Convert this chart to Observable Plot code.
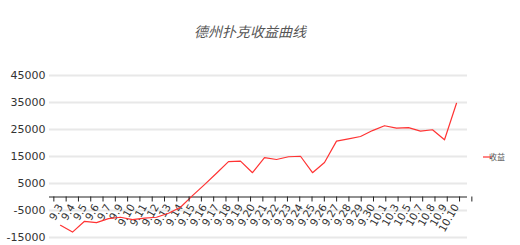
<!DOCTYPE html>
<html><head><meta charset="utf-8">
<script src="https://cdn.jsdelivr.net/npm/d3@7"></script>
<script src="https://cdn.jsdelivr.net/npm/@observablehq/plot@0.6"></script>
<style>body{margin:0;background:#fff;} #chart svg{display:block;}</style>
</head><body><div id="chart"></div>
<script>
const title = "德州扑克收益曲线";
const seriesName = "收益";
const cats = ["9.3","9.4","9.5","9.6","9.7","9.9","9.10","9.11","9.12","9.13","9.14","9.15","9.16","9.17","9.18","9.19","9.20","9.21","9.22","9.23","9.24","9.25","9.26","9.27","9.28","9.29","9.30","10.1","10.3","10.5","10.7","10.8","10.9","10.10"];
const values = [-10500,-13000,-9000,-9500,-8000,-7500,-8400,-7800,-7500,-6000,-3800,500,4600,8800,13100,13300,9000,14600,13900,14900,15100,9000,12800,20700,21500,22400,24600,26400,25500,25700,24400,24900,21200,34700];
const yTicks = [-15000,-5000,5000,15000,25000,35000,45000];

const data = cats.map((c,i)=>({c, v: values[i]}));
const W = 520, H = 245;
const plot = Plot.plot({
  width: W, height: H,
  marginLeft: 49, marginRight: 53, marginTop: 75, marginBottom: 8,
  style: {fontFamily: "DejaVu Sans, Verdana, sans-serif", background: "#fff"},
  x: {type: "point", domain: cats, padding: 0.5, axis: null},
  y: {domain: [-15000, 45000], axis: null},
  marks: [
    Plot.ruleY(yTicks, {stroke: "#e8e8e8", strokeWidth: 2}),
    Plot.axisY({ticks: yTicks, tickSize: 0, tickPadding: 4, tickFormat: d => String(d), fontSize: 11, fill: "#333", label: null}),
    Plot.ruleY([0], {stroke: "#222", strokeWidth: 1}),
    Plot.text(cats, {x: d => d, y: 0, text: d => d, rotate: -60, textAnchor: "end", lineAnchor: "middle", dy: 8, dx: 0, fontSize: 10.5, fill: "#333"}),
    Plot.line(data, {x: "c", y: "v", stroke: "#ff3333", strokeWidth: 1.2})
  ]
});
document.getElementById("chart").appendChild(plot);
const svg = d3.select(plot);
const xs = plot.scale("x"), ys = plot.scale("y");
const r = xs.range;
const step = (r[1]-r[0]) / (cats.length - 1 + 2*0.5);
const x0 = xs.apply(cats[0]) - step/2;
const yz = ys.apply(0);
const g = svg.append("g").attr("stroke", "#222");
for (let i = 0; i <= cats.length; i++) {
  const x = x0 + i*step;
  g.append("line").attr("x1", x).attr("x2", x).attr("y1", yz).attr("y2", yz + 5);
}
svg.append("text").attr("x", 250).attr("y", 37).attr("text-anchor", "middle")
  .attr("font-family", "Noto Sans CJK SC").attr("font-style", "italic").attr("font-size", 14)
  .attr("fill", "#555").text(title);
svg.append("line").attr("x1", 483).attr("x2", 492).attr("y1", 157).attr("y2", 157)
  .attr("stroke", "#ff3333").attr("stroke-width", 1.2);
svg.append("text").attr("x", 497).attr("y", 160).attr("font-family", "Noto Sans CJK SC")
  .attr("font-size", 8).attr("fill", "#555").text(seriesName);
</script></body></html>
